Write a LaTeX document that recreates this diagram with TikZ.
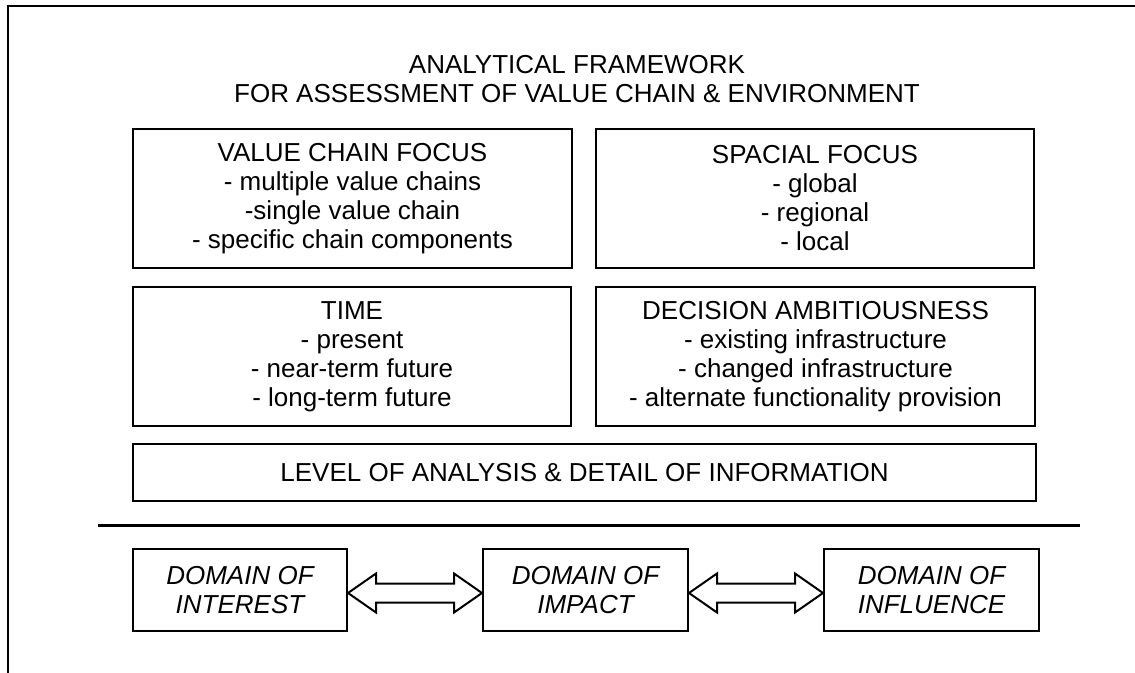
\documentclass[tikz,border=0pt]{standalone}
\usepackage{fontspec}
\setmainfont{Liberation Sans}
\usetikzlibrary{calc}
\tikzset{
  box/.style={draw=black, line width=1.5pt, rectangle, inner sep=0pt, align=center,
    font=\fontsize{19.5}{21.75}\selectfont},
  dombox/.style={box, font=\fontsize{19.5}{21.75}\selectfont\itshape},
  frameline/.style={line width=1.5pt},
  sepline/.style={line width=2.25pt},
  blockarrow/.style={draw=black, line width=1.5pt, fill=white, line join=miter},
  titletext/.style={align=center, inner sep=0pt, font=\fontsize{19.5}{21.75}\selectfont}
}
\begin{document}
\begin{tikzpicture}[x=0.75pt, y=-0.75pt]
\useasboundingbox (0,0) rectangle (1135,673);
% partial frame
\coordinate (fc) at (8,6.5);
\coordinate (fr) at (1135,6.5);
\coordinate (fb) at (8,673);
\draw[frameline] (fr) -- (fc) -- (fb);
% title
\node[titletext] (title) at (577,79) {ANALYTICAL FRAMEWORK\\FOR ASSESSMENT OF VALUE CHAIN \& ENVIRONMENT};
% boxes
\node[box, minimum width=439*0.75pt, minimum height=139*0.75pt] (vc) at (352.5,198.5)
  {VALUE CHAIN FOCUS\\- multiple value chains\\-single value chain\\- specific chain components};
\node[box, minimum width=438*0.75pt, minimum height=139*0.75pt] (sp) at (815,198.5)
  {SPACIAL FOCUS\\- global\\- regional\\- local};
\node[box, minimum width=438*0.75pt, minimum height=139*0.75pt] (tm) at (352,356.5)
  {TIME\\- present\\- near-term future\\- long-term future};
\node[box, minimum width=439*0.75pt, minimum height=139*0.75pt] (da) at (815.5,356.5)
  {DECISION AMBITIOUSNESS\\- existing infrastructure\\- changed infrastructure\\- alternate functionality provision};
\node[box, minimum width=903*0.75pt, minimum height=57*0.75pt] (lv) at (584.5,472.5)
  {LEVEL OF ANALYSIS \& DETAIL OF INFORMATION};
% separator
\coordinate (s1) at (98,525);
\coordinate (s2) at (1080,525);
\draw[sepline] (s1) -- (s2);
% domain boxes
\node[dombox, minimum width=214*0.75pt, minimum height=82*0.75pt] (di) at (240,590) {DOMAIN OF\\INTEREST};
\node[dombox, minimum width=205*0.75pt, minimum height=82*0.75pt] (dm) at (585.5,590) {DOMAIN OF\\IMPACT};
\node[dombox, minimum width=215*0.75pt, minimum height=82*0.75pt] (df) at (931.5,590) {DOMAIN OF\\INFLUENCE};
% block arrows
\foreach \a/\b in {di/dm, dm/df}{
  \path ($(\a.east)+(0,3)$) coordinate (p1) ($(\b.west)+(0,3)$) coordinate (p2);
  \draw[blockarrow] (p1) -- ($(p1)+(28,-19.5)$) -- ($(p1)+(28,-9.5)$) -- ($(p2)+(-28,-9.5)$)
    -- ($(p2)+(-28,-19.5)$) -- (p2) -- ($(p2)+(-28,19.5)$) -- ($(p2)+(-28,9.5)$)
    -- ($(p1)+(28,9.5)$) -- ($(p1)+(28,19.5)$) -- cycle;
}
\end{tikzpicture}
\end{document}
